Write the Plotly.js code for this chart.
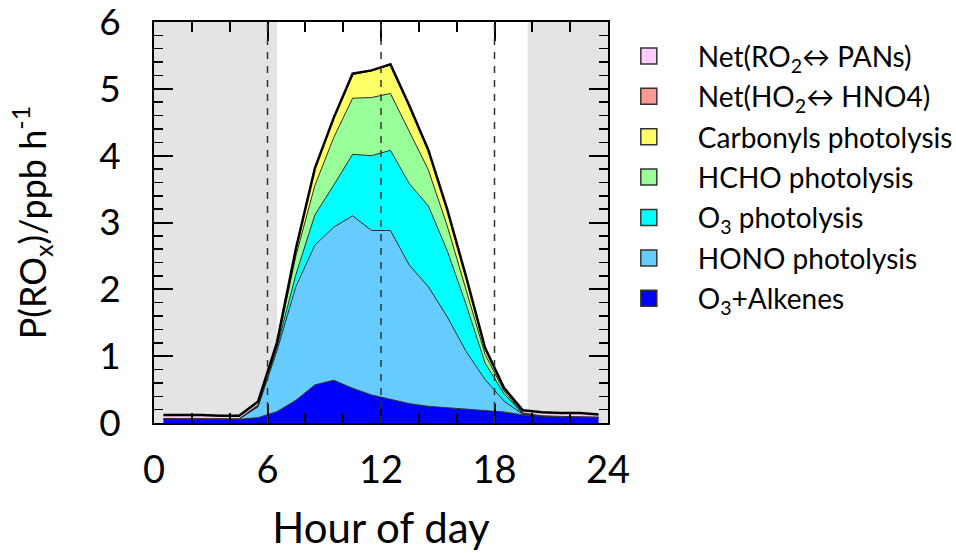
<!DOCTYPE html>
<html>
<head>
<meta charset="utf-8">
<script src="https://cdn.plot.ly/plotly-3.0.1.min.js"></script>
<style>html,body{margin:0;padding:0;background:#fff;}#chart{width:956px;height:553px;}</style>
</head>
<body>
<div id="chart"></div>
<script>
// Hour of day (hourly means plotted at half hours)
const hours = [0.5,1.5,2.5,3.5,4.5,5.5,6.5,7.5,8.5,9.5,10.5,11.5,12.5,13.5,14.5,15.5,16.5,17.5,18.5,19.5,20.5,21.5,22.5,23.5];

// Stacked contributions, ppb h-1 (bottom to top)
const o3Alkenes  = [0.06,0.06,0.06,0.055,0.055,0.08,0.17,0.34,0.57,0.64,0.52,0.42,0.36,0.29,0.25,0.23,0.21,0.19,0.165,0.12,0.10,0.09,0.09,0.08];
const honoPhot   = [0.003,0.003,0.003,0.003,0.005,0.16,0.91,1.70,2.09,2.29,2.58,2.46,2.52,2.07,1.79,1.36,0.86,0.46,0.165,0.01,0.005,0.005,0.005,0.005];
const o3Phot     = [0,0,0,0,0,0.01,0.05,0.18,0.45,0.63,0.92,1.12,1.20,1.22,1.21,0.99,0.70,0.25,0.11,0.005,0,0,0,0];
const hchoPhot   = [0,0,0,0,0,0.01,0.04,0.28,0.44,0.71,0.84,0.87,0.85,0.78,0.54,0.37,0.23,0.13,0.04,0.005,0,0,0,0];
const carbPhot   = [0,0,0,0,0,0.005,0.02,0.10,0.25,0.29,0.36,0.40,0.43,0.38,0.29,0.24,0.18,0.09,0.04,0.005,0,0,0,0];
const netHNO4    = [0.004,0.004,0.004,0.004,0.004,0.005,0.003,0.003,0.003,0.003,0.003,0.003,0.003,0.003,0.003,0.003,0.003,0.003,0.003,0.005,0.004,0.004,0.004,0.004];
const netPANs    = [0.053,0.058,0.053,0.048,0.046,0.05,0.01,0.003,0.003,0.003,0.003,0.003,0.003,0.003,0.003,0.003,0.003,0.003,0.004,0.04,0.051,0.05,0.05,0.04];

const seriesNames = ["O<sub>3</sub>+Alkenes","HONO photolysis","O<sub>3</sub> photolysis","HCHO photolysis","Carbonyls photolysis","Net(HO<sub>2</sub>\u2194 HNO4)","Net(RO<sub>2</sub>\u2194 PANs)"];
const seriesData  = [o3Alkenes, honoPhot, o3Phot, hchoPhot, carbPhot, netHNO4, netPANs];
const seriesColors = ["#0000ff","#66ccff","#00ffff","#99ff99","#ffff66","#ff9a94","#ffccff"];

// Axis ticks
const xTickVals = [0, 6, 12, 18, 24];
const yTickVals = [0, 1, 2, 3, 4, 5, 6];

// Night shading (hours) and dashed reference hours
const nightSpans = [[0, 6.5], [19.75, 24]];
const dashHours = [6, 12, 18];

const traces = [];
seriesData.forEach((d, i) => {
  const isTop = i === seriesData.length - 1;
  traces.push({
    x: hours, y: d, type: 'scatter', mode: 'lines', stackgroup: 'one',
    fillcolor: seriesColors[i],
    line: {color: isTop ? '#000' : '#2a2a2a', width: isTop ? 2.5 : 1},
    name: seriesNames[i], showlegend: false, hoverinfo: 'skip'
  });
});
// legend entries (top to bottom)
for (let i = seriesData.length - 1; i >= 0; i--) {
  traces.push({
    x: [null], y: [null], type: 'scatter', mode: 'markers',
    name: seriesNames[i], legendgroup: 'g' + i, showlegend: true,
    marker: {symbol: 'square', size: 17, color: seriesColors[i], line: {color: '#333', width: 1.5}}
  });
}

const shapes = [];
nightSpans.forEach(s => shapes.push({type: 'rect', xref: 'x', yref: 'paper', x0: s[0], x1: s[1], y0: 0, y1: 1, fillcolor: '#e4e4e4', line: {width: 0}, layer: 'below'}));
dashHours.forEach(h => shapes.push({type: 'line', xref: 'x', yref: 'paper', x0: h, x1: h, y0: 0, y1: 1, line: {color: '#333', width: 1.5, dash: '7px,7px'}, layer: 'above'}));

const font = 'Lato, "Open Sans", sans-serif';
const layout = {
  width: 956, height: 553,
  margin: {l: 154, r: 348, t: 22, b: 130, autoexpand: false},
  paper_bgcolor: '#fff', plot_bgcolor: 'rgba(0,0,0,0)',
  font: {family: font, color: '#000'},
  showlegend: true,
  legend: {x: 0.982, y: 0.977, xanchor: 'left', yanchor: 'top', font: {size: 28, family: font},
           traceorder: 'grouped', tracegroupgap: 1, itemwidth: 88, bgcolor: 'rgba(0,0,0,0)'},
  xaxis: {range: [0, 24], tickvals: xTickVals, ticktext: xTickVals.map(String),
          ticks: 'inside', ticklen: 19, tickwidth: 2, tickcolor: '#000', ticklabelstandoff: 12, ticklabeloverflow: 'allow',
          minor: {dtick: 2, tick0: 0, ticks: 'inside', ticklen: 10, tickwidth: 2, tickcolor: '#000'},
          showline: true, linewidth: 2, linecolor: '#000', mirror: 'allticks', showgrid: false, zeroline: false,
          tickfont: {size: 38}, title: {text: 'Hour of day', font: {size: 42}, standoff: 24}},
  yaxis: {range: [0, 6], tickvals: yTickVals, ticktext: yTickVals.map(String),
          ticks: 'inside', ticklen: 19, tickwidth: 2, tickcolor: '#000', ticklabelstandoff: 24, ticklabeloverflow: 'allow',
          minor: {dtick: 0.2, tick0: 0, ticks: 'inside', ticklen: 9, tickwidth: 1.5, tickcolor: '#000'},
          showline: true, linewidth: 2, linecolor: '#000', mirror: 'allticks', showgrid: false, zeroline: false,
          tickfont: {size: 37}, title: {text: 'P(RO<sub>x</sub>)/ppb h<sup>-1</sup>', font: {size: 36}, standoff: 42}},
  shapes: shapes
};

Plotly.newPlot('chart', traces, layout, {displayModeBar: false, staticPlot: true});
</script>
</body>
</html>
